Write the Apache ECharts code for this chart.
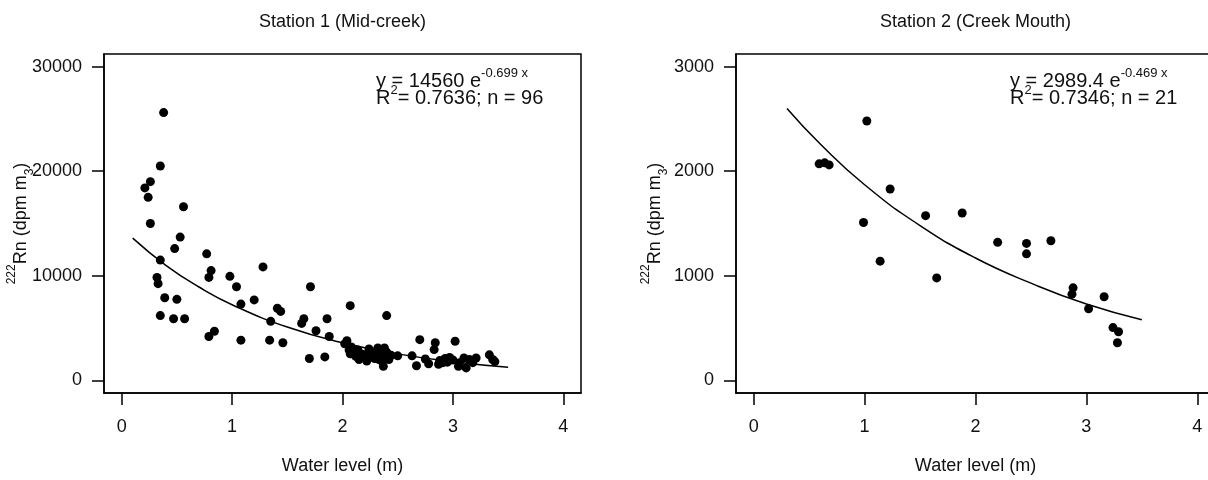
<!DOCTYPE html>
<html>
<head>
<meta charset="utf-8">
<title>222Rn vs water level</title>
<script src="https://cdn.jsdelivr.net/npm/echarts@6/dist/echarts.min.js"></script>
<style>
  html, body { margin: 0; padding: 0; background: #fff; }
  #main { width: 1208px; height: 480px; }
</style>
</head>
<body>
<div id="main"></div>
<script>
// Station 1 (Mid-creek): water level (m) / 222Rn (dpm m-3), n = 96
var s1Level = [
  0.38, 0.35, 0.26, 0.21, 0.24, 0.56, 0.26, 0.53, 0.48, 0.35,
  0.77, 0.81, 0.79, 0.32, 0.33, 0.98, 1.04, 1.28, 0.39, 0.50,
  1.08, 1.20, 1.71, 0.35, 0.47, 0.57, 1.41, 1.44, 1.35, 1.65,
  1.63, 1.86, 2.07, 1.76, 1.88, 0.84, 0.79, 1.08, 1.34, 1.46,
  1.70, 1.84, 2.40, 2.70, 2.84, 2.83, 3.02, 2.04, 2.08, 2.07,
  2.32, 2.38, 2.37, 2.50, 2.63, 2.67, 2.75, 2.87, 2.91, 2.93,
  2.97, 3.00, 3.10, 3.15, 3.18, 3.21, 3.33, 3.36, 3.38, 3.12,
  3.06, 3.05, 2.78, 2.06, 2.10, 2.12, 2.15, 2.18, 2.20, 2.22,
  2.25, 2.27, 2.29, 2.31, 2.33, 2.35, 2.36, 2.38, 2.40, 2.42,
  2.44, 2.14, 2.24, 2.02, 2.88, 2.95
];
var s1Radon = [
  25600, 20500, 19000, 18400, 17500, 16600, 15000, 13700, 12600, 11500,
  12100, 10500, 9850, 9850, 9250, 9950, 8950, 10850, 7900, 7750,
  7300, 7700, 8950, 6200, 5900, 5900, 6900, 6600, 5650, 5900,
  5450, 5900, 7150, 4750, 4200, 4700, 4200, 3850, 3850, 3600,
  2100, 2250, 6200, 3900, 3600, 2950, 3750, 3800, 3200, 2550,
  3100, 3100, 1350, 2350, 2350, 1400, 2050, 1550, 1700, 2100,
  2200, 1950, 2150, 2000, 1700, 2150, 2450, 2000, 1800, 1200,
  1700, 1350, 1600, 2900, 2600, 2300, 2000, 2500, 2200, 1850,
  2700, 2400, 2100, 2800, 2000, 2500, 1800, 2300, 2700, 2000,
  2400, 2900, 3000, 3500, 1900, 1750
];
// fitted curve (y = 14560 e^-0.699x)
var s1FitLevel = [0.1, 0.4, 0.7, 1.0, 1.5, 2.0, 2.5, 3.0, 3.5];
var s1FitRadon = [13600, 11000, 8930, 7240, 5100, 3600, 2540, 1790, 1260];

// Station 2 (Creek Mouth), n = 21
var s2Level = [
  0.59, 0.64, 0.68, 0.99, 1.14, 1.02, 1.23, 1.55, 1.88, 2.20,
  2.46, 2.68, 1.65, 2.46, 2.88, 2.87, 3.16, 3.02, 3.24, 3.29, 3.28
];
var s2Radon = [
  2070, 2080, 2060, 1510, 1140, 2480, 1830, 1575, 1600, 1320,
  1310, 1335, 980, 1210, 885, 825, 800, 685, 505, 465, 360
];
// fitted curve (y = 2989.4 e^-0.469x)
var s2FitLevel = [0.3, 0.6, 1.0, 1.5, 2.0, 2.5, 3.0, 3.5];
var s2FitRadon = [2600, 2260, 1870, 1480, 1170, 930, 730, 580];

var xTicks = [0, 1, 2, 3, 4];
var s1YTicks = [0, 10000, 20000, 30000];
var s2YTicks = [0, 1000, 2000, 3000];

var font = '"Liberation Sans", Arial, sans-serif';
var ink = '#111';

function zip(xs, ys) {
  return xs.map(function (x, i) { return [x, ys[i]]; });
}

function plain(v) { return String(v); }

function makeX(idx) {
  return {
    gridIndex: idx,
    type: 'value',
    min: -0.16,
    max: 4.16,
    name: 'Water level (m)',
    nameLocation: 'middle',
    nameGap: 64,
    nameTextStyle: { fontFamily: font, fontSize: 18, color: ink },
    axisLine: { show: true, onZero: false, lineStyle: { color: '#000', width: 1.5 } },
    axisTick: { show: true, length: 12, customValues: xTicks, lineStyle: { color: '#000', width: 1.5 } },
    axisLabel: { margin: 25, customValues: xTicks, formatter: plain, fontFamily: font, fontSize: 18, color: ink },
    splitLine: { show: false }
  };
}

function makeY(idx, min, max, ticks, gap) {
  return {
    gridIndex: idx,
    type: 'value',
    min: min,
    max: max,
    name: '{sup|222}{m|Rn (dpm m}{sub|3}{m|)}',
    nameLocation: 'middle',
    nameRotate: 90,
    nameGap: gap,
    nameMoveOverlap: false,
    nameTextStyle: {
      color: ink,
      fontFamily: font,
      rich: {
        m: { fontSize: 18, lineHeight: 30, fontFamily: font, color: ink },
        sup: { fontSize: 12, lineHeight: 12, verticalAlign: 'top', fontFamily: font, color: ink },
        sub: { fontSize: 12, lineHeight: 12, verticalAlign: 'bottom', fontFamily: font, color: ink }
      }
    },
    axisLine: { show: true, onZero: false, lineStyle: { color: '#000', width: 1.5 } },
    axisTick: { show: true, length: 12, customValues: ticks, lineStyle: { color: '#000', width: 1.5 } },
    axisLabel: { margin: 22, customValues: ticks, formatter: plain, fontFamily: font, fontSize: 18, color: ink },
    splitLine: { show: false }
  };
}

function eqText(x, y, text) {
  return {
    type: 'text',
    x: x,
    y: y,
    style: {
      text: text,
      fontFamily: font,
      fontSize: 20,
      lineHeight: 28,
      fill: ink,
      align: 'left',
      verticalAlign: 'middle',
      rich: {
        sup: { fontSize: 13, lineHeight: 10, verticalAlign: 'top', fontFamily: font, fill: ink }
      }
    }
  };
}

function titleText(x, text) {
  return {
    type: 'text',
    x: x,
    y: 22,
    style: {
      text: text, fontFamily: font, fontSize: 18, fill: ink,
      align: 'center', verticalAlign: 'middle'
    }
  };
}

var chart = echarts.init(document.getElementById('main'), null, { renderer: 'canvas' });

var option = {
  animation: false,
  backgroundColor: '#fff',
  grid: [
    { left: 104, top: 54, width: 477, height: 339, show: true, borderColor: '#000', borderWidth: 1.5, outerBoundsMode: 'none' },
    { left: 736, top: 54, width: 479, height: 339, show: true, borderColor: '#000', borderWidth: 1.5, outerBoundsMode: 'none' }
  ],
  xAxis: [makeX(0), makeX(1)],
  yAxis: [
    makeY(0, -1200, 31200, s1YTicks, 68),
    makeY(1, -120, 3120, s2YTicks, 66)
  ],
  series: [
    {
      name: 'Station 1', type: 'scatter', xAxisIndex: 0, yAxisIndex: 0,
      symbolSize: 9, itemStyle: { color: '#000', opacity: 1 },
      data: zip(s1Level, s1Radon)
    },
    {
      name: 'Station 1 fit', type: 'line', xAxisIndex: 0, yAxisIndex: 0,
      smooth: true, showSymbol: false, symbol: 'none',
      lineStyle: { color: '#000', width: 1.5 },
      data: zip(s1FitLevel, s1FitRadon)
    },
    {
      name: 'Station 2', type: 'scatter', xAxisIndex: 1, yAxisIndex: 1,
      symbolSize: 9, itemStyle: { color: '#000', opacity: 1 },
      data: zip(s2Level, s2Radon)
    },
    {
      name: 'Station 2 fit', type: 'line', xAxisIndex: 1, yAxisIndex: 1,
      smooth: true, showSymbol: false, symbol: 'none',
      lineStyle: { color: '#000', width: 1.5 },
      data: zip(s2FitLevel, s2FitRadon)
    }
  ],
  graphic: [
    titleText(342.5, 'Station 1 (Mid-creek)'),
    titleText(975.5, 'Station 2 (Creek Mouth)'),
    eqText(376, 81, 'y = 14560 e{sup|-0.699 x}'),
    eqText(376, 98, 'R{sup|2}= 0.7636; n = 96'),
    eqText(1010, 81, 'y = 2989.4 e{sup|-0.469 x}'),
    eqText(1010, 98, 'R{sup|2}= 0.7346; n = 21')
  ]
};

chart.setOption(option);
</script>
</body>
</html>
